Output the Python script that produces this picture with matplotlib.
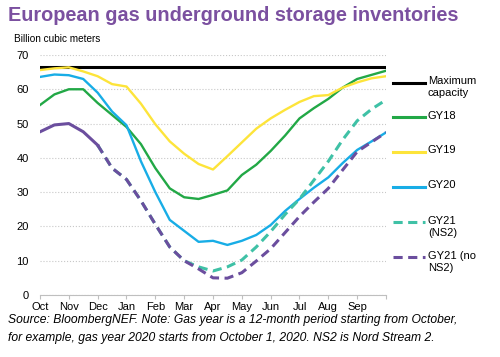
import matplotlib.pyplot as plt

plt.rcParams['font.family'] = ['Liberation Sans', 'DejaVu Sans']

# sample points, in months after October 1
months = [i / 2 for i in range(25)]
month_labels = ["Oct", "Nov", "Dec", "Jan", "Feb", "Mar", "Apr", "May", "Jun", "Jul", "Aug", "Sep", ""]

max_capacity = 66.5

gy18 = [55.4, 58.5, 60.0, 60.0, 56.0, 52.5, 49.0, 44.0, 37.0, 31.1, 28.5, 28.0, 29.2,
        30.5, 35.0, 38.0, 42.0, 46.5, 51.5, 54.5, 57.2, 60.5, 63.0, 64.2, 65.4]
gy19 = [65.6, 66.1, 66.4, 65.2, 63.8, 61.5, 60.8, 55.8, 49.8, 44.8, 41.2, 38.2, 36.6,
        40.5, 44.5, 48.5, 51.5, 54.0, 56.3, 58.0, 58.3, 60.5, 62.0, 63.2, 63.8]
gy20 = [63.6, 64.3, 64.1, 63.0, 59.0, 53.5, 49.5, 39.0, 30.0, 21.9, 18.7, 15.5, 15.8,
        14.6, 15.8, 17.5, 20.4, 24.5, 28.0, 31.3, 34.3, 38.5, 42.3, 44.8, 47.4]

# GY21: actual data up to early December, then two forecasts
gy21_actual = [47.6, 49.6, 50.0, 47.6, 43.7]
gy21_ns2 = [43.7, 37.0, 33.7, 27.5, 20.6, 14.0, 10.0, 8.2, 7.0,
            8.2, 10.2, 14.0, 18.5, 23.5, 28.0, 33.5, 39.0, 45.3, 50.8, 54.2, 56.9]
gy21_no_ns2 = [43.7, 37.0, 33.7, 27.5, 20.6, 14.0, 10.0, 7.6, 5.0,
               4.9, 6.5, 9.9, 13.5, 18.2, 22.9, 27.1, 31.1, 36.5, 41.8, 44.6, 47.4]

c_green = '#22a846'
c_yellow = '#fde43a'
c_blue = '#18ade6'
c_teal = '#3fc1a6'
c_purple = '#6b4e9e'
dash = (0, (3, 1.8))

fig = plt.figure(figsize=(5, 3.57), dpi=100)
ax = fig.add_axes([0.08, 0.1737, 0.692, 0.6723])

ax.axhline(max_capacity, color='black', lw=2.2, zorder=2)
ax.plot(months, gy18, color=c_green, lw=1.7, zorder=3)
ax.plot(months, gy19, color=c_yellow, lw=1.7, zorder=3)
ax.plot(months, gy20, color=c_blue, lw=1.7, zorder=3)
ax.plot(months[4:], gy21_ns2, color=c_teal, lw=2.2, ls=dash, zorder=3)
ax.plot(months[4:], gy21_no_ns2, color=c_purple, lw=2.2, ls=dash, zorder=4)
ax.plot(months[:5], gy21_actual, color=c_purple, lw=2.2, zorder=4)

ax.set_xlim(0, 12)
ax.set_ylim(0, 70)
ax.set_yticks(range(0, 71, 10))
ax.set_xticks(range(13))
ax.set_xticklabels(month_labels)
ax.grid(axis='y', color='#c8c8c8', ls=':', lw=0.8)
ax.set_axisbelow(True)
for s in ['top', 'right', 'left']:
    ax.spines[s].set_visible(False)
ax.spines['bottom'].set_color('#bfbfbf')
ax.tick_params(axis='y', length=0, pad=8, labelsize=8)
ax.tick_params(axis='x', length=3, color='#bfbfbf', pad=2, labelsize=8)

# legend drawn by hand so the handle sits on the first text line
legend = [
    ("Maximum\ncapacity", 'black', '-', 0.885),
    ("GY18", c_green, '-', 0.740),
    ("GY19", c_yellow, '-', 0.597),
    ("GY20", c_blue, '-', 0.451),
    ("GY21\n(NS2)", c_teal, dash, 0.303),
    ("GY21 (no\nNS2)", c_purple, dash, 0.157),
]
for label, color, ls, y in legend:
    ax.plot([1.02, 1.113], [y, y], transform=ax.transAxes, color=color,
            ls=ls, lw=2.2, clip_on=False)
    ax.text(1.121, y + 0.028, label, transform=ax.transAxes, va='top', ha='left',
            fontsize=8, linespacing=1.25)

fig.text(0.016, 0.982, "European gas underground storage inventories", color='#7b50a0',
         fontsize=14.3, fontweight='bold', va='top', ha='left')
fig.text(0.028, 0.905, "Billion cubic meters", fontsize=7.2, va='top', ha='left')
fig.text(0.016, 0.12,
         "Source: BloombergNEF. Note: Gas year is a 12-month period starting from October,\n"
         "for example, gas year 2020 starts from October 1, 2020. NS2 is Nord Stream 2.",
         fontsize=8.7, style='italic', va='top', ha='left', linespacing=1.7)

fig.savefig("out.png", dpi=100)
